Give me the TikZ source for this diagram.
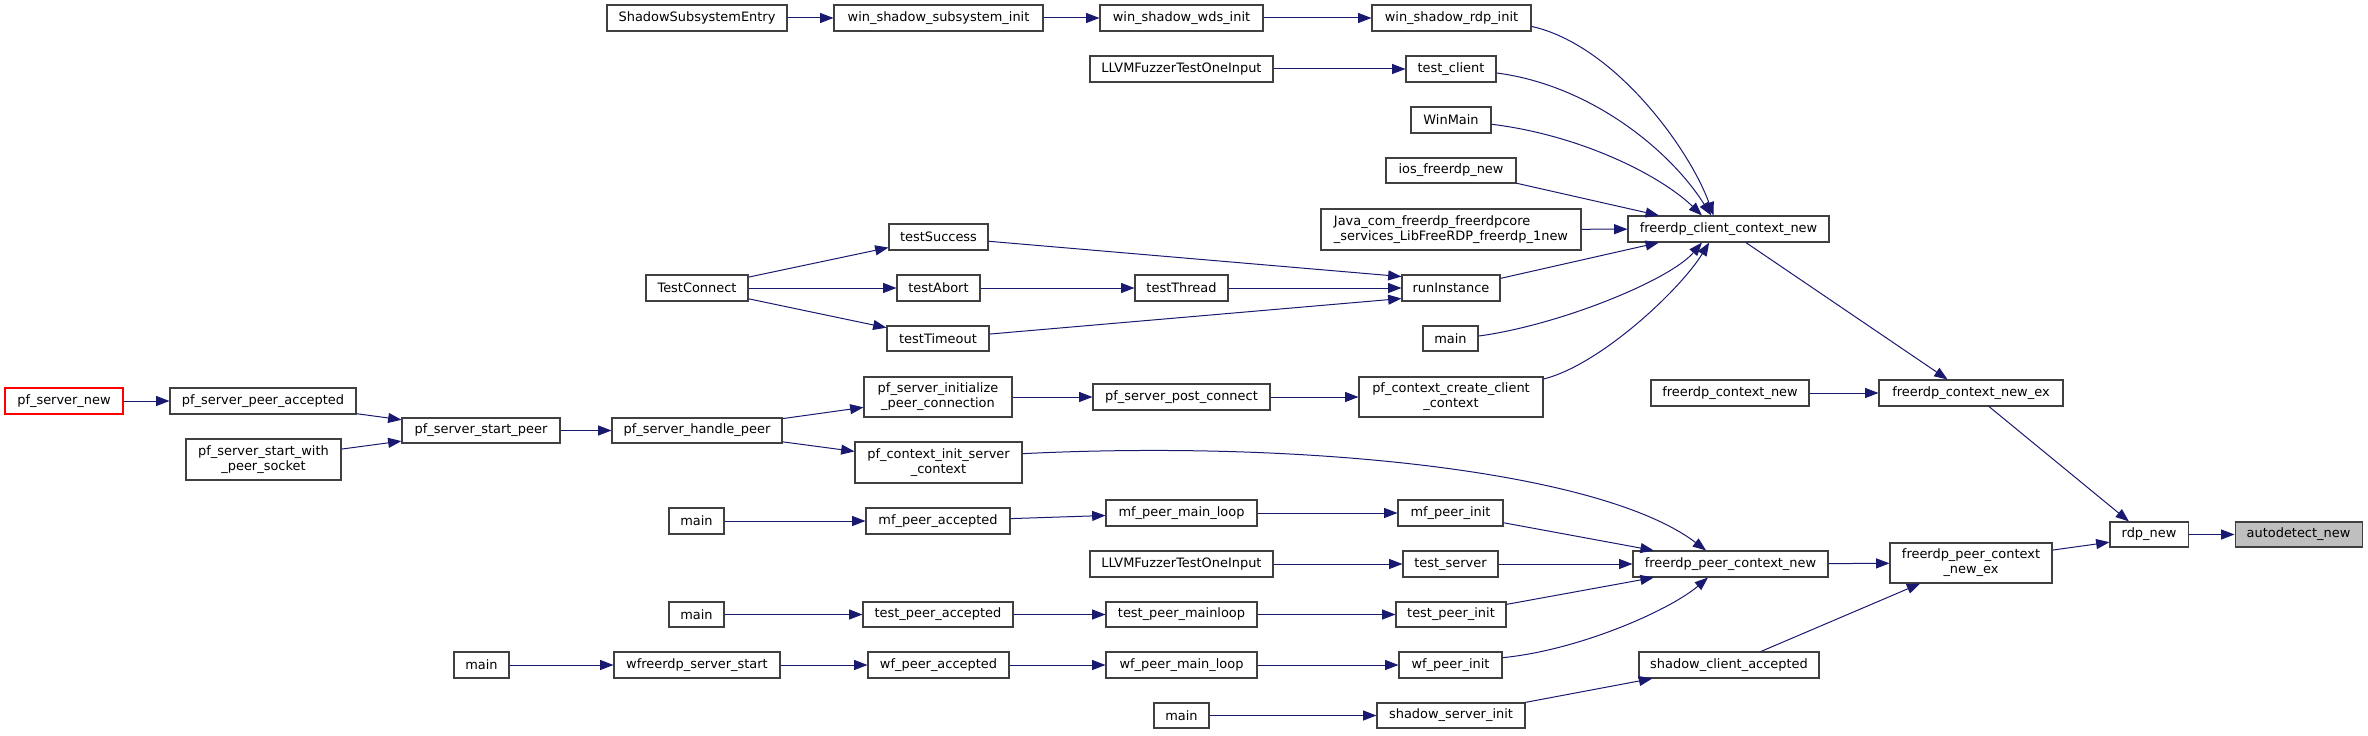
\documentclass[tikz,border=0pt]{standalone}
\usepackage{fontspec}
\setmainfont{DejaVu Sans}
\usetikzlibrary{arrows.meta}
\definecolor{edgeblue}{HTML}{191970}
\definecolor{nodeborder}{HTML}{404040}
\definecolor{rootfill}{HTML}{BFBFBF}
\tikzset{
  fn/.style={draw=nodeborder, fill=white, line width=0.8pt, inner sep=0pt, align=center,
    font=\fontsize{9.7pt}{11.25pt}\selectfont},
  edge/.style={draw=edgeblue, line width=0.75pt, -{Triangle[length=10pt,width=7.5pt]}},
}
\newcommand\FN[7][]{\node[fn,#1,minimum width={(#5-#4)*0.75pt},minimum height={(#7-#6)*0.75pt}] (#2) at ({(#4+#5)/2},{(#6+#7)/2}) {#3};}
\begin{document}
\begin{tikzpicture}[x=0.75pt,y=-0.75pt]
\useasboundingbox (0,0) rectangle (2368,735);
% nodes
\FN{sse}{ShadowSubsystemEntry}{607}{787}{5}{31}
\FN{wssi}{win\_shadow\_subsystem\_init}{834}{1043}{5}{31}
\FN{wswi}{win\_shadow\_wds\_init}{1100}{1263}{5}{31}
\FN{wsri}{win\_shadow\_rdp\_init}{1372}{1531}{5}{31}
\FN{llvma}{LLVMFuzzerTestOneInput}{1090}{1273}{56}{82}
\FN{tclient}{test\_client}{1406}{1496}{56}{82}
\FN{winmain}{WinMain}{1411}{1491}{107}{133}
\FN{ios}{ios\_freerdp\_new}{1386}{1516}{158}{183}
\FN[align=left]{java}{Java\_com\_freerdp\_freerdpcore\\\_services\_LibFreeRDP\_freerdp\_1new}{1321}{1581}{209}{250}
\FN{fccn}{freerdp\_client\_context\_new}{1628}{1829}{216}{242}
\FN{tsucc}{testSuccess}{889}{988}{224}{250}
\FN{tconn}{TestConnect}{646}{748}{275}{301}
\FN{tabort}{testAbort}{897}{980}{275}{301}
\FN{tthread}{testThread}{1135}{1228}{275}{301}
\FN{runinst}{runInstance}{1402}{1500}{275}{301}
\FN{ttimeout}{testTimeout}{887}{989}{326}{351}
\FN{mainc}{main}{1423}{1478}{326}{351}
\FN{psinit}{pf\_server\_initialize\\\_peer\_connection}{864}{1012}{377}{417}
\FN{pspc}{pf\_server\_post\_connect}{1093}{1270}{384}{410}
\FN{pcccc}{pf\_context\_create\_client\\\_context}{1359}{1543}{377}{417}
\FN{fcn}{freerdp\_context\_new}{1651}{1809}{380}{406}
\FN{fcne}{freerdp\_context\_new\_ex}{1879}{2063}{380}{406}
\FN[draw=red]{psnew}{pf\_server\_new}{5}{123}{388}{414}
\FN{pspa}{pf\_server\_peer\_accepted}{170}{356}{388}{414}
\FN{pssp}{pf\_server\_start\_peer}{402}{560}{418}{443}
\FN{pshp}{pf\_server\_handle\_peer}{612}{782}{418}{443}
\FN{psswps}{pf\_server\_start\_with\\\_peer\_socket}{186}{341}{439}{480}
\FN{pcisc}{pf\_context\_init\_server\\\_context}{855}{1022}{442}{483}
\FN{mainmf}{main}{669}{724}{508}{534}
\FN{mfpa}{mf\_peer\_accepted}{866}{1010}{508}{534}
\FN{mfpml}{mf\_peer\_main\_loop}{1106}{1257}{500}{526}
\FN{mfpi}{mf\_peer\_init}{1398}{1503}{500}{526}
\FN{rdpnew}{rdp\_new}{2110}{2188}{522}{547}
\FN[fill=rootfill]{autod}{autodetect\_new}{2235}{2362}{522}{547}
\FN{fpcne}{freerdp\_peer\_context\\\_new\_ex}{1890}{2052}{543}{583}
\FN{llvmb}{LLVMFuzzerTestOneInput}{1090}{1273}{551}{577}
\FN{tserver}{test\_server}{1403}{1498}{551}{577}
\FN{fpcn}{freerdp\_peer\_context\_new}{1633}{1828}{551}{577}
\FN{maint}{main}{669}{724}{602}{627}
\FN{tpa}{test\_peer\_accepted}{863}{1013}{602}{627}
\FN{tpml}{test\_peer\_mainloop}{1106}{1257}{602}{627}
\FN{tpi}{test\_peer\_init}{1396}{1506}{602}{627}
\FN{mainwf}{main}{454}{509}{652}{678}
\FN{wfss}{wfreerdp\_server\_start}{614}{780}{652}{678}
\FN{wfpa}{wf\_peer\_accepted}{868}{1009}{652}{678}
\FN{wfpml}{wf\_peer\_main\_loop}{1106}{1257}{652}{678}
\FN{wfpi}{wf\_peer\_init}{1399}{1502}{652}{678}
\FN{sca}{shadow\_client\_accepted}{1639}{1819}{652}{678}
\FN{mains}{main}{1154}{1209}{703}{728}
\FN{ssi}{shadow\_server\_init}{1377}{1525}{703}{728}
% edges
\draw[edge] (sse) -- (wssi);
\draw[edge] (wssi) -- (wswi);
\draw[edge] (wswi) -- (wsri);
\draw[edge] (wsri.-6) .. controls (1615,45) and (1690,150) .. (fccn.138);
\draw[edge] (llvma) -- (tclient);
\draw[edge] (tclient.-5) .. controls (1590,85) and (1670,150) .. (fccn.142);
\draw[edge] (winmain.-6) .. controls (1580,135) and (1660,175) .. (fccn.153);
\draw[edge] (ios.-11) -- (fccn.169);
\draw[edge] (java) -- (fccn);
\draw[edge] (runinst.11) -- (fccn.191);
\draw[edge] (mainc.5) .. controls (1560,325) and (1670,280) .. (fccn.207);
\draw[edge] (pcccc.11) .. controls (1600,365) and (1680,290) .. (fccn.215);
\draw[edge] (fccn.322) -- (fcne.150);
\draw[edge] (fcn) -- (fcne);
\draw[edge] (fcne.323) -- (rdpnew.147);
\draw[edge] (rdpnew) -- (autod);
\draw[edge] (fpcne.9) -- (rdpnew.191);
\draw[edge] (fpcn) -- (fpcne);
\draw[edge] (sca.23) -- (fpcne.202);
\draw[edge] (mains) -- (ssi);
\draw[edge] (ssi.10) -- (sca.190);
\draw[edge] (tconn) -- (tsucc);
\draw[edge] (tconn) -- (tabort);
\draw[edge] (tconn) -- (ttimeout);
\draw[edge] (tsucc) -- (runinst.167);
\draw[edge] (tabort) -- (tthread);
\draw[edge] (tthread) -- (runinst);
\draw[edge] (ttimeout) -- (runinst.192);
\draw[edge] (psnew) -- (pspa);
\draw[edge] (pspa) -- (pssp);
\draw[edge] (psswps) -- (pssp);
\draw[edge] (pssp) -- (pshp);
\draw[edge] (pshp) -- (psinit);
\draw[edge] (pshp) -- (pcisc);
\draw[edge] (psinit) -- (pspc);
\draw[edge] (pspc) -- (pcccc);
\draw[edge] (pcisc.6) .. controls (1300,440) and (1600,470) .. (fpcn.151);
\draw[edge] (mainmf) -- (mfpa);
\draw[edge] (mfpa) -- (mfpml);
\draw[edge] (mfpml) -- (mfpi);
\draw[edge] (mfpi) -- (fpcn.170);
\draw[edge] (llvmb) -- (tserver);
\draw[edge] (tserver) -- (fpcn);
\draw[edge] (maint) -- (tpa);
\draw[edge] (tpa) -- (tpml);
\draw[edge] (tpml) -- (tpi);
\draw[edge] (tpi) -- (fpcn.190);
\draw[edge] (mainwf) -- (wfss);
\draw[edge] (wfss) -- (wfpa);
\draw[edge] (wfpa) -- (wfpml);
\draw[edge] (wfpml) -- (wfpi);
\draw[edge] (wfpi.8) .. controls (1580,650) and (1670,610) .. (fpcn.211);
\end{tikzpicture}
\end{document}
